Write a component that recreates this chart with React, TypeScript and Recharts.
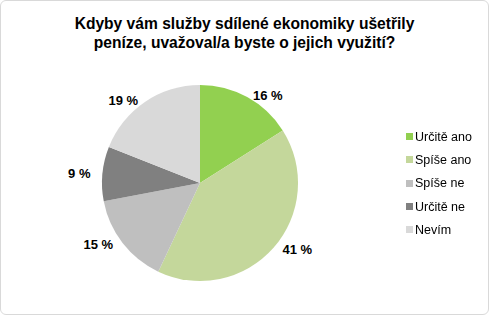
import { PieChart, Pie, Cell, Legend } from 'recharts';

const CATEGORIES = ['Určitě ano', 'Spíše ano', 'Spíše ne', 'Určitě ne', 'Nevím'];
const VALUES = [16, 41, 15, 9, 19];
const COLORS = ['#92d050', '#c4d79b', '#bfbfbf', '#808080', '#d9d9d9'];

const data = CATEGORIES.map((name, i) => ({ name, value: VALUES[i] }));

const FONT = '"Liberation Sans", Arial, sans-serif';
const RADIAN = Math.PI / 180;

function renderLabel(props: any) {
  const { cx, cy, outerRadius, midAngle, value } = props;
  const sin = Math.sin(-midAngle * RADIAN);
  const cos = Math.cos(-midAngle * RADIAN);
  const x = cx + (outerRadius + 12) * cos;
  const y = cy + (outerRadius + 2) * sin;
  return (
    <text
      x={x}
      y={y}
      textAnchor={cos >= 0 ? 'start' : 'end'}
      dominantBaseline="central"
      fontFamily={FONT}
      fontSize={13}
      fontWeight="bold"
      fill="#000"
    >
      {`${value} %`}
    </text>
  );
}

function LegendList() {
  return (
    <div style={{ fontFamily: FONT, fontSize: 12.5, color: '#000' }}>
      {data.map((d, i) => (
        <div key={d.name} style={{ display: 'flex', alignItems: 'center', height: 23.3 }}>
          <span style={{ width: 7, height: 7, background: COLORS[i], marginRight: 2, display: 'inline-block' }} />
          {d.name}
        </div>
      ))}
    </div>
  );
}

export default function App() {
  return (
    <div
      style={{
        position: 'fixed',
        left: 0,
        top: 0,
        width: 487,
        height: 313,
        border: '1px solid #d9d9d9',
        borderRadius: 6,
        background: '#fff',
      }}
    >
      <div
        style={{
          position: 'absolute',
          top: 13,
          left: 0,
          width: 487,
          textAlign: 'center',
          fontFamily: FONT,
          fontWeight: 'bold',
          fontSize: 15.6,
          lineHeight: '19px',
        }}
      >
        Kdyby vám služby sdílené ekonomiky ušetřily
        <br />
        peníze, uvažoval/a byste o jejich využití?
      </div>
      <PieChart
        width={487}
        height={313}
        margin={{ top: 0, right: 0, bottom: 0, left: 0 }}
        style={{ position: 'absolute', left: 0, top: 0 }}
      >
        <Pie
          data={data}
          dataKey="value"
          nameKey="name"
          cx={199}
          cy={182}
          outerRadius={98}
          startAngle={90}
          endAngle={-270}
          stroke="none"
          label={renderLabel}
          labelLine={false}
          isAnimationActive={false}
        >
          {data.map((_, i) => (
            <Cell key={i} fill={COLORS[i]} />
          ))}
        </Pie>
        <Legend
          content={<LegendList />}
          wrapperStyle={{ position: 'absolute', left: 405, top: 124, width: 90 }}
        />
      </PieChart>
    </div>
  );
}
